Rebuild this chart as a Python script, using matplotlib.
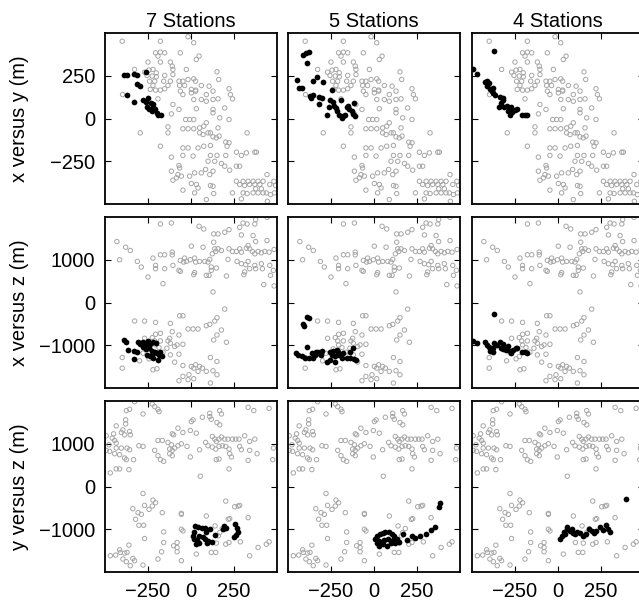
import matplotlib
matplotlib.use('Agg')
import matplotlib.pyplot as plt
import numpy as np

plt.rcParams['font.family'] = ['Liberation Sans', 'DejaVu Sans']

stations = ['7 Stations', '5 Stations', '4 Stations']
row_labels = ['x versus y (m)', 'x versus z (m)', 'y versus z (m)']
x_ticks = [-250, 0, 250]
y_ticks = [[-250, 0, 250], [-1000, 0, 1000], [-1000, 0, 1000]]
x_lim = (-500, 500)
y_lims = [(-500, 500), (-2000, 2000), (-2000, 2000)]

# background catalogue (gray open circles), same in every column
grid_xy = [
    (-400, 452), (-178, 452), (-17, 478), (16, 443), (-206, 384), (-178, 388), (-153, 384),
    (-192, 365), (-62, 384), (47, 365), (31, 345), (-250, 330), (-178, 330), (-120, 330),
    (-109, 306), (-105, 287), (-27, 287), (151, 273), (-328, 287), (-270, 271), (-244, 283),
    (-221, 287), (-202, 267), (-256, 252), (-225, 248), (-202, 244), (-153, 252), (-105, 257),
    (161, 228), (-241, 218), (-211, 218), (-159, 218), (-120, 218), (-70, 218), (-47, 218),
    (-17, 228), (16, 232), (27, 218), (-221, 193), (-237, 170), (-206, 166), (-178, 166),
    (-153, 174), (-134, 193), (-66, 193), (-37, 193), (60, 193), (105, 189), (2, 170),
    (27, 166), (-62, 160), (-47, 140), (2, 150), (27, 160), (89, 140), (128, 160), (221, 174),
    (229, 140), (-192, 115), (-105, 82), (16, 111), (60, 111), (89, 101), (128, 111),
    (157, 115), (241, 115), (-70, 53), (31, 57), (128, 53), (128, 33), (196, 62), (167, 4),
    (221, -6), (-114, 27), (-31, -6), (-8, -6), (16, -6), (-134, -49), (-134, -84),
    (-295, -84), (-47, -60), (-17, -60), (16, -60), (50, -55), (89, -25), (74, -45),
    (99, -84), (50, -84), (70, -94), (113, -84), (128, -107), (147, -113), (163, -103),
    (157, -55), (326, -84), (-178, -162), (-47, -172), (-17, -172), (41, -172), (74, -162),
    (113, -158), (210, -162), (202, -138), (221, -142), (264, -197), (293, -216), (322, -201),
    (371, -197), (380, -197), (-114, -226), (-47, -216), (12, -220), (113, -216), (151, -216),
    (202, -216), (-70, -275), (-66, -289), (99, -250), (138, -250), (177, -263), (196, -279),
    (225, -302), (264, -279), (283, -279), (-114, -308), (-76, -328), (-56, -337),
    (-105, -361), (-85, -347), (-8, -337), (21, -318), (60, -318), (85, -298), (109, -328),
    (128, -308), (-47, -419), (2, -380), (31, -386), (41, -406), (113, -392), (128, -396),
    (89, -474), (132, -439), (21, -435), (241, -435), (293, -470), (264, -367), (283, -386),
    (303, -367), (332, -367), (361, -367), (390, -367), (419, -367), (312, -392), (341, -386),
    (371, -386), (400, -386), (303, -435), (326, -439), (361, -435), (390, -435), (419, -435),
    (438, -435), (376, -411), (409, -411), (442, -328), (458, -386), (462, -445), (444, -484),
    (-398, 140), (482, -367), (492, -392), (485, -435),
]

grid_xz = [
    (-178, 1837), (-114, 1860), (47, 1783), (74, 1721), (132, 1604), (157, 1604), (196, 1643),
    (221, 1705), (283, 1759), (303, 1860), (326, 1837), (376, 1938), (371, 1837), (442, 1992),
    (361, 1566), (293, 1581), (132, 1411), (376, 1426), (442, 1449), (-431, 1426), (-380, 1294),
    (-353, 1217), (-415, 1000), (-312, 961), (-289, 829), (-221, 1039), (-178, 1116),
    (-153, 1116), (-109, 1178), (-109, 1116), (-206, 868), (-206, 791), (-153, 791),
    (-105, 868), (-70, 752), (-62, 729), (-250, 597), (-163, 442), (-62, 984), (-37, 1039),
    (-43, 946), (-27, 961), (2, 1318), (-4, 1000), (21, 1039), (27, 946), (50, 961), (70, 1294),
    (80, 961), (99, 946), (109, 1008), (124, 1139), (118, 829), (138, 1256), (157, 1256),
    (144, 1194), (177, 1217), (147, 806), (118, 752), (89, 636), (105, 636), (21, 698),
    (16, 651), (206, 620), (221, 1256), (215, 1008), (241, 1194), (264, 1194), (283, 1256),
    (293, 1178), (268, 961), (293, 907), (322, 1271), (332, 1333), (341, 1256), (357, 1194),
    (371, 1139), (390, 1194), (409, 1163), (429, 1194), (332, 961), (318, 884), (341, 791),
    (371, 868), (376, 791), (312, 713), (307, 651), (409, 907), (415, 791), (458, 868),
    (462, 636), (423, 419), (128, 248), (454, 1178), (483, 1240), (479, 752), (483, 388),
    (196, -155), (-66, -310), (-47, -310), (151, -357), (138, -434), (89, -543), (109, -512),
    (-328, -434), (-270, -434), (-206, -465), (-120, -488), (-17, -620), (12, -620),
    (41, -620), (177, -643), (151, -760), (132, -876), (206, -930),
    (-270, -837), (-225, -822), (-206, -744), (-178, -721), (-211, -899), (-178, -899),
    (-134, -899), (-124, -837), (-109, -682), (-70, -760), (-81, -992), (-47, -977),
    (-120, -953), (-95, -1031), (-140, -1070), (-163, -1163), (-186, -1054), (-206, -992),
    (-237, -1085), (-225, -1263), (-244, -1318), (-299, -1364), (-279, -1186), (-400, -1287),
    (-400, -1535), (-221, -1573), (-198, -1550), (-120, -1225), (-70, -1209), (-95, -1395),
    (-47, -1473), (2, -1496), (16, -1535), (27, -1457), (50, -1496), (66, -1535), (41, -1612),
    (89, -1612), (128, -1597), (151, -1690), (113, -1287), (151, -1380), (-12, -1690),
    (-17, -1806), (-47, -1728), (-70, -1829), (16, -1783), (113, -1883),
]

grid_yz = [
    (-328, 1984), (-376, 1775), (-357, 1806), (-279, 1697), (-225, 1930), (-211, 1868),
    (-192, 1806), (-186, 1752), (-435, 1418), (-380, 1558), (-380, 1465), (-396, 1325),
    (-405, 1263), (-386, 1209), (-357, 1287), (-353, 1209), (-493, 1186), (-450, 1232),
    (-458, 1132), (-444, 1077), (-435, 1015), (-477, 977), (-435, 899), (-405, 899),
    (-372, 899), (-357, 860), (-493, 845), (-473, 822), (-444, 767), (-415, 744), (-386, 667),
    (-376, 628), (-334, 628), (-361, 395), (-435, 411), (-415, 411), (-469, 318), (-303, 953),
    (-279, 938), (-211, 845), (-192, 721), (-178, 628), (-159, 589), (-192, 1077),
    (-167, 1077), (-134, 1031), (-114, 977), (-101, 1209), (-109, 1232), (-124, 876),
    (-109, 845), (-95, 899), (-124, 767), (-109, 721), (-76, 953), (-56, 1000), (-76, 1364),
    (-47, 1263), (-23, 938), (-4, 690), (-4, 1310), (31, 1248), (2, 1519), (12, 1558),
    (66, 1620), (109, 1713), (118, 1573), (109, 1635), (151, 1496), (167, 1442), (167, 1775),
    (177, 1697), (50, 860), (85, 1031), (99, 953), (124, 1170), (138, 1108), (147, 1054),
    (163, 1108), (177, 1155), (196, 1108), (215, 1108), (241, 1108), (260, 1108), (279, 1108),
    (312, 1186), (341, 1054), (371, 1108), (124, 922), (144, 876), (163, 938), (182, 953),
    (202, 938), (221, 876), (225, 767), (235, 690), (283, 938), (293, 860), (341, 845),
    (384, 767), (332, 612), (147, 628), (163, 643), (221, 411), (54, 240), (332, 1852),
    (365, 1775), (454, 1829), (479, 899), (475, 628),
    (-279, -163), (-221, -318), (-206, -380), (-225, -457), (-244, -535), (-270, -442),
    (-338, -519), (-308, -612), (-289, -651), (-322, -767), (-303, -907), (-275, -907),
    (-167, -612), (-56, -628), (-56, -651), (89, -690), (202, -341), (254, -473), (274, -457),
    (283, -442), (225, -752), (332, -729), (-270, -1217), (-159, -1062), (-159, -1310),
    (-101, -1387), (-81, -1310), (-81, -1426), (-81, -1527), (-56, -1000), (-47, -1039),
    (-171, -1527), (-192, -1697), (-56, -1736), (31, -1581), (118, -1542), (144, -1542),
    (147, -1325), (202, -1349), (221, -1310), (287, -1294), (341, -1620), (390, -1426),
    (438, -1349), (454, -1294), (-469, -1620), (-438, -1604), (-415, -1480), (-386, -1558),
    (-372, -1542), (-396, -1697), (-376, -1759), (-338, -1682), (-328, -1736), (-353, -1852),
    (-279, -1837), (-361, -1372), (-411, -1542), (182, -984), (167, -1077), (159, -1155),
    (101, -1310), (217, -767), (140, -922),
]

# relocated events (black dots) per station count
loc_xy_7 = [
    (-390, 257), (-374, 257), (-332, 263), (-312, 257), (-262, 271), (-312, 199), (-297, 189),
    (-371, 140), (-332, 96), (-277, 107), (-262, 96), (-248, 121), (-235, 92), (-219, 68),
    (-243, 57), (-210, 53), (-229, 43), (-200, 33), (-190, 23), (-177, 18), (-219, 82),
    (-254, 68),
]
loc_xy_5 = [
    (-415, 374), (-396, 384), (-378, 388), (-388, 322), (-450, 228), (-435, 179), (-421, 179),
    (-357, 218), (-334, 244), (-295, 213), (-246, 166), (-372, 131), (-357, 140), (-369, 121),
    (-318, 127), (-305, 121), (-318, 82), (-256, 107), (-241, 96), (-233, 76), (-260, 68),
    (-221, 62), (-217, 43), (-202, 23), (-188, 4), (-169, 23), (-194, 107), (-275, 18),
    (-159, 68), (-144, 53), (-130, 43), (-116, 88), (-111, 14), (-124, 29), (-149, 76),
    (-178, 14),
]
loc_xy_4 = [
    (-371, 394), (-497, 287), (-469, 263), (-425, 213), (-411, 218), (-400, 205), (-415, 189),
    (-396, 174), (-386, 160), (-376, 150), (-367, 135), (-338, 127), (-318, 111), (-334, 92),
    (-341, 68), (-314, 68), (-299, 76), (-289, 43), (-279, 23), (-270, 37), (-250, 49),
    (-237, 57), (-211, 23), (-192, 18), (-178, 18), (-275, 68), (-322, 121), (-380, 179),
]
loc_xz_7 = [
    (-390, -876), (-378, -930), (-365, -1108), (-332, -1132), (-312, -1163), (-332, -1318),
    (-307, -915), (-297, -977), (-277, -930), (-262, -992), (-248, -899), (-239, -977),
    (-219, -930), (-204, -953), (-262, -1085), (-243, -1054), (-229, -1132), (-254, -1225),
    (-239, -1263), (-223, -1186), (-210, -1147), (-196, -1186), (-184, -1225), (-180, -1163),
    (-219, -1287), (-190, -1341), (-171, -1240), (-281, -1031), (-293, -953),
]
loc_xz_5 = [
    (-388, -333), (-376, -357), (-415, -512), (-407, -543), (-388, -1031), (-454, -1186),
    (-440, -1225), (-421, -1240), (-402, -1287), (-376, -1287), (-357, -1287), (-363, -1186),
    (-338, -1163), (-324, -1147), (-305, -1132), (-310, -1225), (-275, -1395), (-256, -1163),
    (-237, -1132), (-217, -1108), (-246, -1225), (-227, -1263), (-202, -1225), (-178, -1186),
    (-188, -1287), (-159, -1287), (-140, -1302), (-116, -1318), (-105, -1341), (-227, -1395),
    (-124, -1054), (-140, -1163), (-256, -1341), (-208, -1163), (-314, -1209), (-343, -1225),
]
loc_xz_4 = [
    (-371, -279), (-497, -899), (-473, -953), (-425, -930), (-411, -992), (-400, -1031),
    (-396, -1132), (-380, -1163), (-372, -953), (-353, -992), (-338, -930), (-322, -977),
    (-334, -1054), (-308, -1031), (-289, -1008), (-279, -1132), (-275, -1186), (-264, -1108),
    (-244, -1070), (-237, -1054), (-211, -1163), (-192, -1163), (-178, -1186), (-303, -1108),
    (-322, -1085), (-380, -1070),
]
loc_yz_7 = [
    (23, -922), (43, -938), (62, -961), (81, -961), (111, -984), (10, -1155), (17, -1217),
    (33, -1248), (48, -1155), (68, -1170), (81, -1232), (101, -1271), (120, -1294),
    (140, -1139), (29, -1349), (91, -1325), (48, -1310), (188, -984), (204, -961),
    (17, -1062), (87, -1062), (192, -922), (256, -884), (268, -970), (272, -1070),
    (262, -1140), (250, -1190),
]
loc_yz_5 = [
    (6, -1217), (19, -1155), (35, -1116), (50, -1093), (64, -1062), (89, -1062), (103, -1116),
    (116, -1155), (132, -1217), (147, -1294), (171, -1116), (190, -1248), (219, -1155),
    (239, -1194), (16, -1310), (31, -1387), (50, -1349), (74, -1387), (97, -1325),
    (122, -1310), (58, -1248), (83, -1217), (109, -1248), (31, -1271), (270, -1150),
    (300, -1100), (330, -1020), (355, -950), (380, -480), (386, -380),
]
loc_yz_4 = [
    (396, -302), (12, -1232), (21, -1155), (35, -1062), (50, -1000), (54, -938), (70, -1039),
    (85, -1077), (99, -1116), (113, -1062), (128, -1093), (147, -1155), (163, -1116),
    (182, -984), (196, -1039), (210, -1077), (221, -1039), (244, -938), (264, -1015),
    (279, -907), (293, -984), (303, -1062), (41, -1116), (80, -1000),
]

grids = [grid_xy, grid_xz, grid_yz]
locs = [
    [loc_xy_7, loc_xy_5, loc_xy_4],
    [loc_xz_7, loc_xz_5, loc_xz_4],
    [loc_yz_7, loc_yz_5, loc_yz_4],
]

W, H = 639, 603
fig = plt.figure(figsize=(W / 100, H / 100), dpi=100)

lefts = [105, 288, 472]
tops = [33, 217, 401]
aw, ah = 172, 171

for r in range(3):
    g = np.array(grids[r])
    for c in range(3):
        ax = fig.add_axes([lefts[c] / W, 1 - (tops[r] + ah) / H, aw / W, ah / H])
        ax.scatter(g[:, 0], g[:, 1], s=10, facecolors='none', edgecolors='#a6a6a6',
                   linewidths=0.7, zorder=2)
        pts = np.array(locs[r][c])
        ax.scatter(pts[:, 0], pts[:, 1], s=17, c='black', linewidths=0, zorder=3)
        ax.set_xlim(x_lim)
        ax.set_ylim(y_lims[r])
        ax.set_xticks(x_ticks)
        ax.set_yticks(y_ticks[r])
        ax.tick_params(direction='in', top=True, right=True, length=4, width=0.8,
                       labelsize=14.5, pad=7)
        for sp in ax.spines.values():
            sp.set_linewidth(1.3)
        if c > 0:
            ax.set_yticklabels([])
        else:
            ax.set_ylabel(row_labels[r], fontsize=14.5)
            ax.yaxis.set_label_coords(-0.44, 0.5)
        if r < 2:
            ax.set_xticklabels([])
        if r == 0:
            ax.set_title(stations[c], fontsize=14.5, pad=4)

fig.savefig('out.png', dpi=100)
